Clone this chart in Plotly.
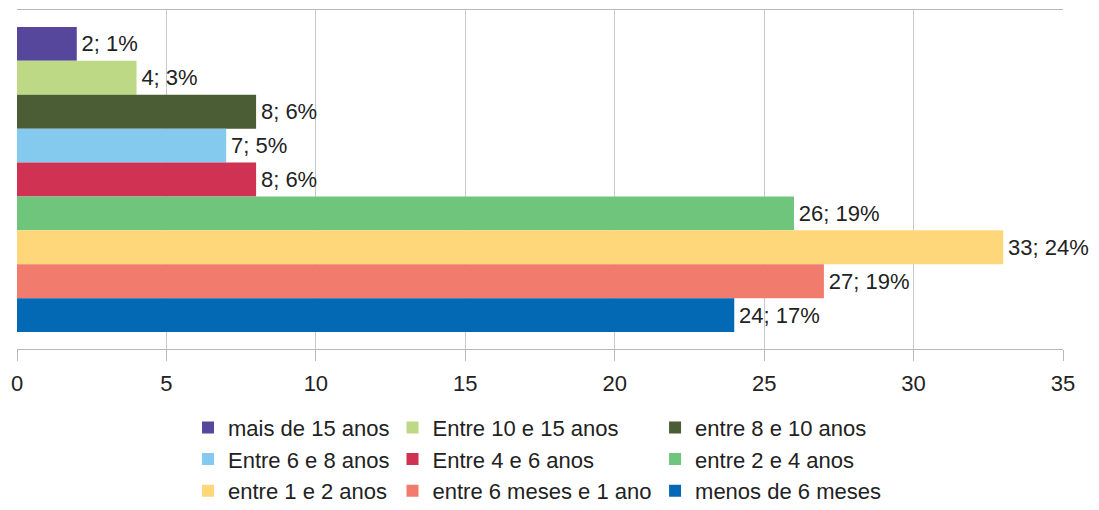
import plotly.graph_objects as go

categories = ["mais de 15 anos", "Entre 10 e 15 anos", "entre 8 e 10 anos",
              "Entre 6 e 8 anos", "Entre 4 e 6 anos", "entre 2 e 4 anos",
              "entre 1 e 2 anos", "entre 6 meses e 1 ano", "menos de 6 meses"]
values = [2, 4, 8, 7, 8, 26, 33, 27, 24]
percents = [1, 3, 6, 5, 6, 19, 24, 19, 17]
colors = ["#56479c", "#bed986", "#4b5d34", "#84c9ee", "#cf3253",
          "#70c57d", "#fed77a", "#f17c6d", "#0469b4"]
legend_ids = ["legend", "legend2", "legend3",
              "legend", "legend2", "legend3",
              "legend", "legend2", "legend3"]
x_ticks = [0, 5, 10, 15, 20, 25, 30, 35]

FONT = "Liberation Sans, Arial, sans-serif"
fig = go.Figure()
for name, v, p, c, lg in zip(categories, values, percents, colors, legend_ids):
    fig.add_trace(go.Bar(
        x=[v], y=[""], name=name, orientation="h",
        marker=dict(color=c, line=dict(width=0)),
        text=[f"\u200a{v}; {p}%"], textposition="outside",
        textfont=dict(family=FONT, size=22, color="#222222"),
        cliponaxis=False, legend=lg,
    ))

fig.update_layout(
    width=1099, height=510,
    margin=dict(l=17, r=36, t=10, b=161, autoexpand=False),
    barmode="group", bargap=0.1, bargroupgap=0,
    plot_bgcolor="white", paper_bgcolor="white",
    font=dict(family=FONT, size=22, color="#222222"),
    xaxis=dict(range=[0, 35], tickvals=x_ticks, showgrid=True, automargin=False,
               gridcolor="#c8c8c8", gridwidth=1, zeroline=False,
               showline=True, linecolor="#b8b8b8", linewidth=1, mirror=True,
               ticks="outside", ticklen=11, tickcolor="#b8b8b8",
               ticklabelstandoff=4,
               tickfont=dict(family=FONT, size=22, color="#222222")),
    yaxis=dict(autorange="reversed", showticklabels=False, showgrid=False,
               zeroline=False, showline=False, automargin=False),
    showlegend=True,
)
leg_common = dict(orientation="v", yanchor="top", y=-0.17, xanchor="left",
                  font=dict(family=FONT, size=22, color="#222222"),
                  bgcolor="rgba(0,0,0,0)", tracegroupgap=0, itemsizing="constant")
fig.update_layout(
    legend=dict(x=0.1635, **leg_common),
    legend2=dict(x=0.359, **leg_common),
    legend3=dict(x=0.61, **leg_common),
)
fig.write_html("out.html", config={"displayModeBar": False},
               post_script="document.body.style.margin='0';document.body.style.overflow='hidden';")
